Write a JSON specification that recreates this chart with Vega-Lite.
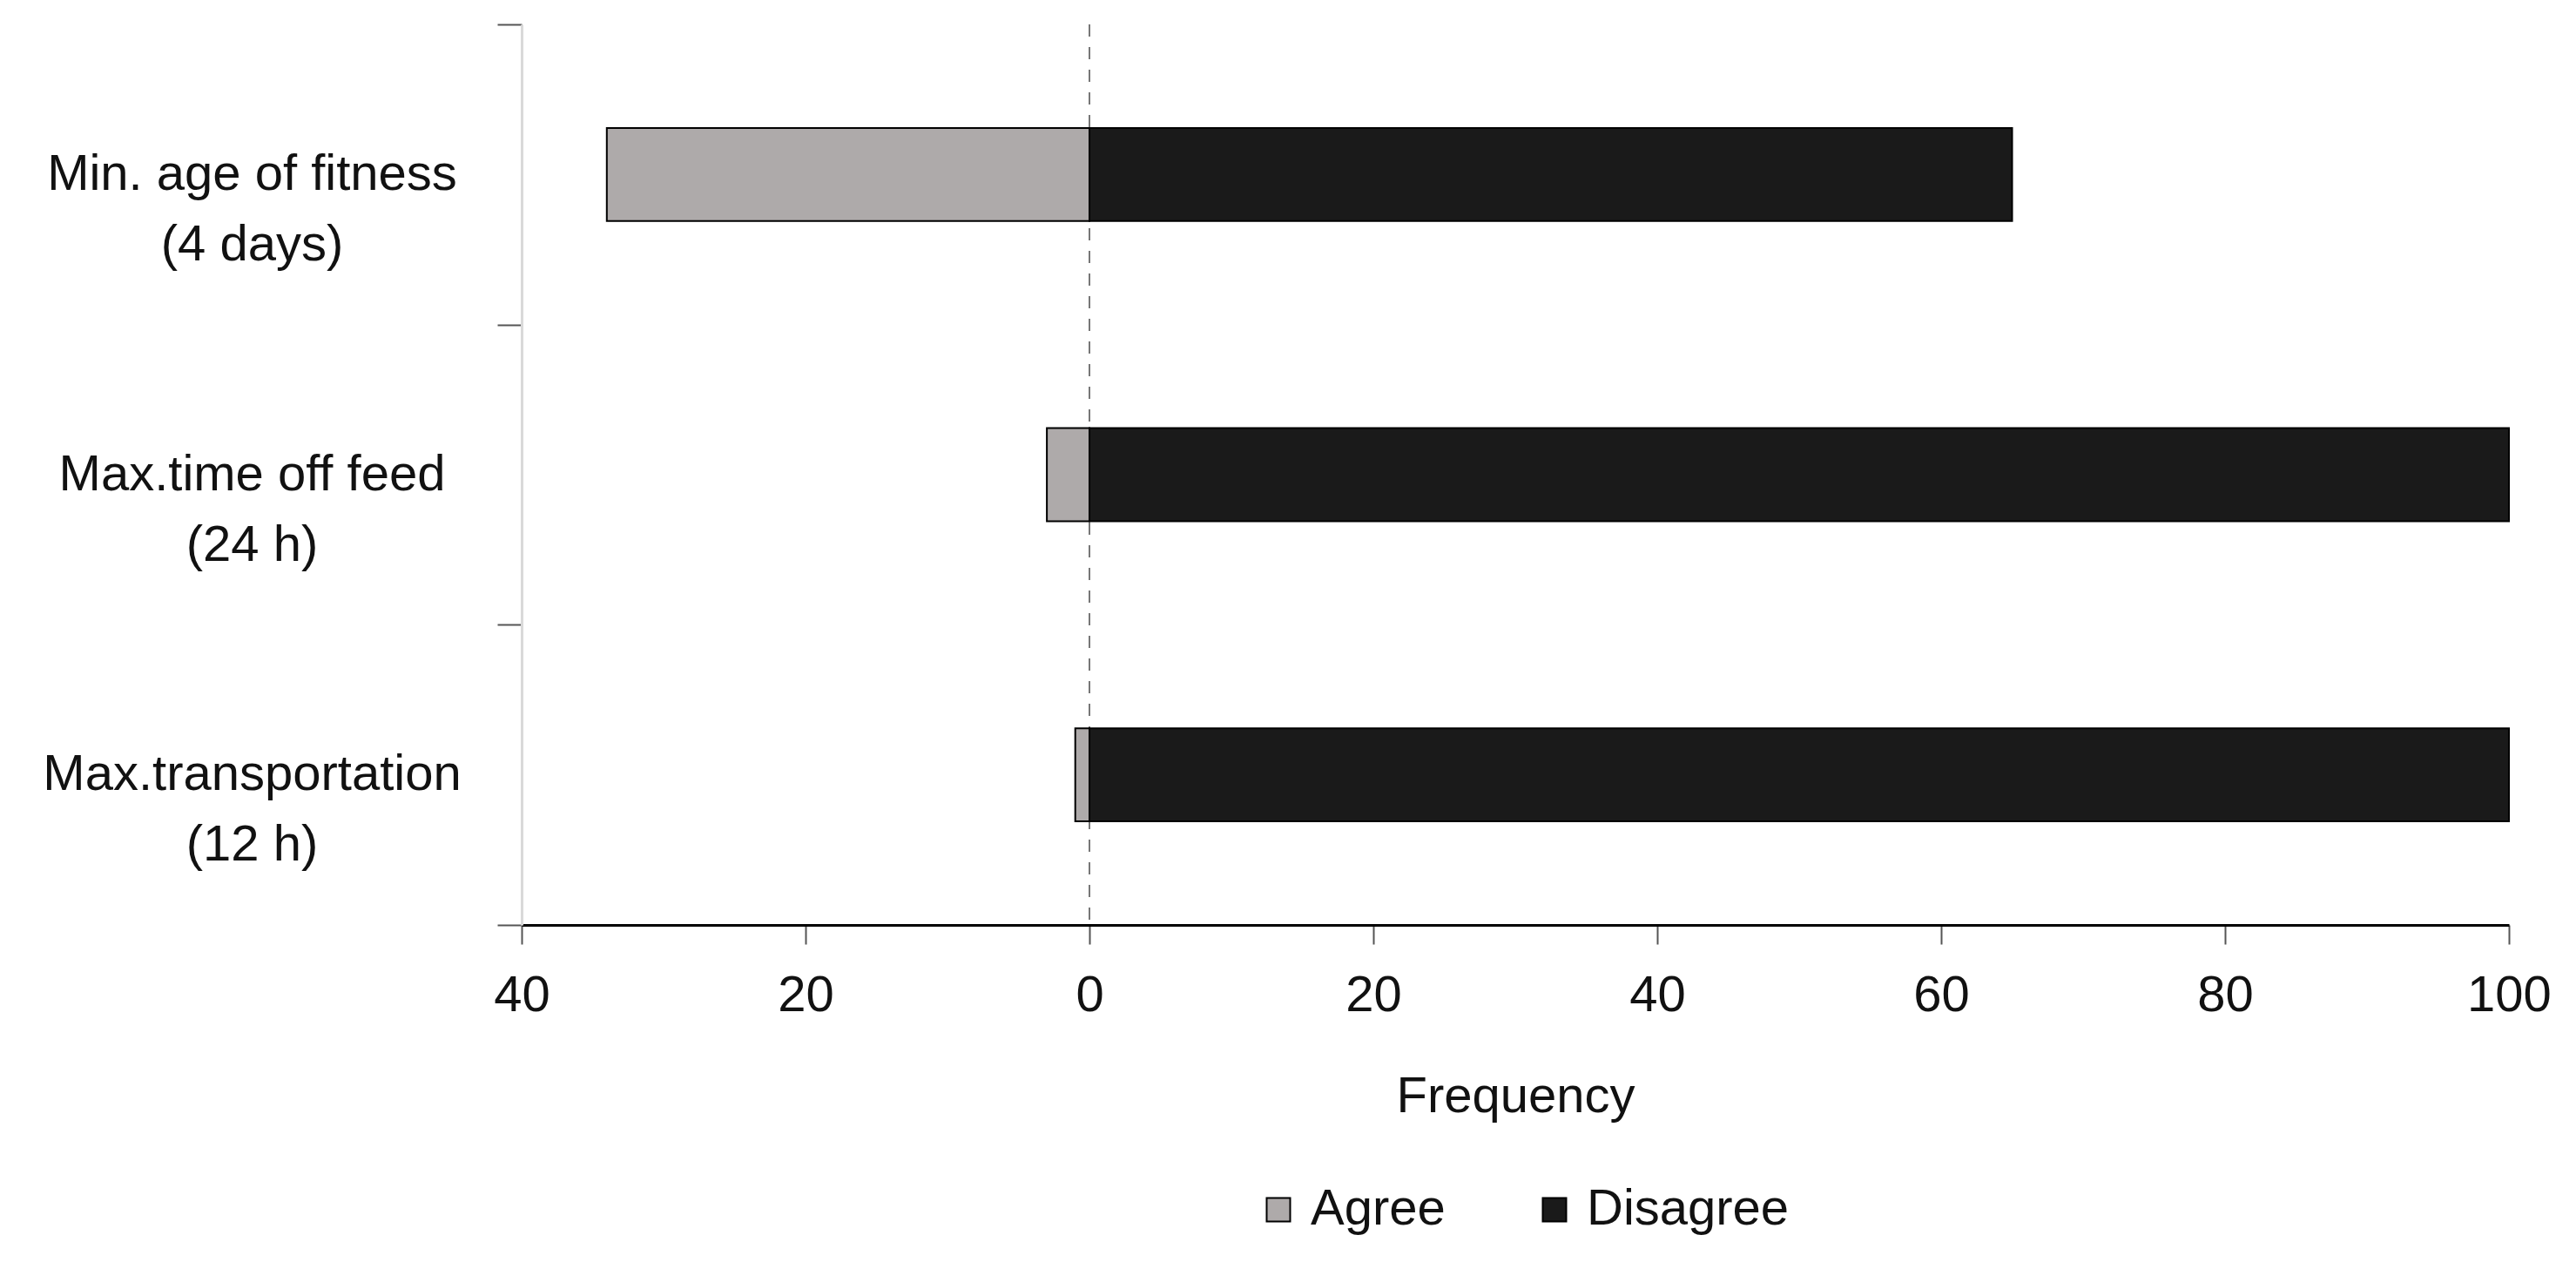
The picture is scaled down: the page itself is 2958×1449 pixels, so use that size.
{
  "$schema": "https://vega.github.io/schema/vega-lite/v6.json",
  "autosize": "none",
  "width": 2282,
  "height": 1034,
  "padding": {"left": 599, "top": 28, "right": 77, "bottom": 387},
  "background": "white",
  "config": {
    "view": {"stroke": null},
    "font": "Liberation Sans",
    "axis": {"labelFont": "Liberation Sans", "titleFont": "Liberation Sans", "labelColor": "#111", "titleColor": "#111"},
    "legend": {"labelFont": "Liberation Sans"}
  },
  "data": {
    "values": [
      {"item": "Min. age of fitness|(4 days)", "response": "Agree", "frequency": -34},
      {"item": "Min. age of fitness|(4 days)", "response": "Disagree", "frequency": 65},
      {"item": "Max.time off feed|(24 h)", "response": "Agree", "frequency": -3},
      {"item": "Max.time off feed|(24 h)", "response": "Disagree", "frequency": 100},
      {"item": "Max.transportation|(12 h)", "response": "Agree", "frequency": -1},
      {"item": "Max.transportation|(12 h)", "response": "Disagree", "frequency": 100}
    ]
  },
  "layer": [
    {
      "mark": {"type": "rule", "color": "#777", "strokeWidth": 2, "strokeDash": [14, 12]},
      "encoding": {"x": {"datum": 0, "type": "quantitative", "scale": {"domain": [-40, 100], "nice": false}}}
    },
    {
      "mark": {"type": "bar", "stroke": "#000", "strokeWidth": 2, "height": {"band": 0.31}},
      "encoding": {
        "y": {
          "field": "item", "type": "nominal", "sort": null,
          "scale": {"paddingInner": 0, "paddingOuter": 0},
          "axis": {
            "title": null,
            "labelExpr": "split(datum.label, '|')",
            "labelAlign": "center",
            "labelBaseline": "middle",
            "labelFontSize": 58,
            "labelLineHeight": 81,
            "labelPadding": 282,
            "labelLimit": 0,
            "tickSize": 28,
            "tickBand": "extent",
            "tickColor": "#555",
            "tickWidth": 2,
            "domainColor": "#d9d9d9",
            "domainWidth": 3,
            "grid": false
          }
        },
        "x": {
          "field": "frequency", "type": "quantitative", "stack": null,
          "scale": {"domain": [-40, 100], "nice": false},
          "axis": {
            "title": "Frequency",
            "titleFontSize": 58,
            "titleFontWeight": "normal",
            "titlePadding": 58,
            "values": [-40, -20, 0, 20, 40, 60, 80, 100],
            "labelExpr": "format(abs(datum.value), 'd')",
            "labelFontSize": 58,
            "labelPadding": 30,
            "labelFlush": false,
            "labelLimit": 0,
            "tickSize": 22,
            "tickColor": "#555",
            "tickWidth": 2,
            "domainColor": "#000",
            "domainWidth": 3,
            "grid": false
          }
        },
        "color": {
          "field": "response", "type": "nominal",
          "scale": {"domain": ["Agree", "Disagree"], "range": ["#aeaaaa", "#1a1a1a"]},
          "legend": {
            "title": null,
            "orient": "none",
            "direction": "horizontal",
            "legendX": 840,
            "legendY": 1332,
            "symbolType": "square",
            "symbolSize": 729,
            "symbolStrokeColor": "#000",
            "symbolStrokeWidth": 2,
            "labelFontSize": 58,
            "labelColor": "#111",
            "labelOffset": 8,
            "labelLimit": 0,
            "columnPadding": 96
          }
        }
      }
    }
  ]
}
